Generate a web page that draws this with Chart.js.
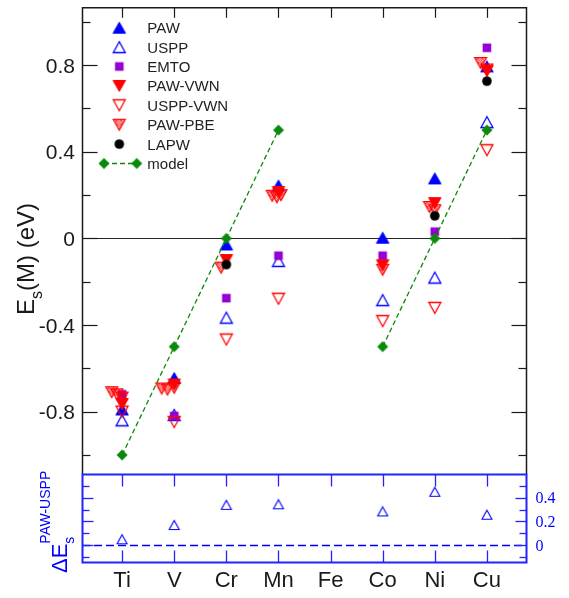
<!DOCTYPE html>
<html>
<head>
<meta charset="utf-8">
<script src="https://cdn.jsdelivr.net/npm/chart.js@4.4.1/dist/chart.umd.min.js"></script>
<style>
  html, body { margin: 0; padding: 0; background: #fff; }
  #wrap { position: relative; width: 569px; height: 598px; }
  #wrap canvas { position: absolute; left: 0; top: 0; }
</style>
</head>
<body>
<div id="wrap">
  <canvas id="main" width="569" height="598"></canvas>
  <canvas id="diff" width="569" height="598"></canvas>
</div>
<script>
// Surface segregation energies of 3d impurities, E_s(M) in eV
const elements = ['Ti', 'V', 'Cr', 'Mn', 'Fe', 'Co', 'Ni', 'Cu'];
const paw     = [-0.79, -0.645, -0.028, 0.244, null, 0.003, 0.277, 0.794];
const uspp    = [-0.84, -0.815, -0.366, -0.104, null, -0.285, -0.181, 0.537];
const emto    = [-0.72, -0.82, -0.276, -0.08, null, -0.08, 0.031, 0.88];
const pawVwn  = [-0.765, -0.675, -0.10, 0.214, null, -0.124, 0.163, 0.772];
const usppVwn = [-0.80, -0.848, -0.467, -0.279, null, -0.382, -0.321, 0.407];
const lapw    = [null, null, -0.121, null, null, null, 0.104, 0.726];
const model   = [-1.0, -0.5, 0.0, 0.5, null, -0.5, 0.0, 0.5];

// PAW-PBE: several calculations per element, set side by side (shift in element units)
const pawPbeElement = ['Ti', 'Ti', 'Ti', 'V', 'V', 'V', 'Cr', 'Mn', 'Mn', 'Mn', 'Co', 'Ni', 'Ni', 'Cu', 'Cu'];
const pawPbeShift   = [-0.2, -0.1, 0, -0.24, -0.13, 0, -0.1, -0.12, -0.03, 0.05, 0, -0.1, 0, -0.12, 0];
const pawPbe        = [-0.71, -0.72, -0.735, -0.693, -0.698, -0.69, -0.135, 0.197, 0.19, 0.20, -0.145, 0.145, 0.13, 0.81, 0.78];

// Difference PAW - USPP (lower panel)
const deltaPawUspp = [0.05, 0.17, 0.34, 0.345, null, 0.285, 0.45, 0.257];

const yTicksMain = [-0.8, -0.4, 0, 0.4, 0.8];
const yMinorMain = [-1.0, -0.6, -0.2, 0.2, 0.6, 1.0];
const yTicksDiff = [0, 0.2, 0.4];
const yMinorDiff = [-0.1, 0.1, 0.3, 0.5];

const RED = '#ff0000', BLUE = '#0000ff', PURPLE = '#9400d3', GREEN = '#0a8a0a', INK = '#1a1a1a';
const SANS = '"Liberation Sans", Arial, Helvetica, sans-serif';
const SERIF = '"Liberation Serif", "Times New Roman", serif';

// ---- marker images -------------------------------------------------------
function marker(draw, size = 18) {
  const c = document.createElement('canvas');
  c.width = size; c.height = size;
  draw(c.getContext('2d'), size / 2, size / 2);
  return c;
}
function triPath(g, cx, cy, w, h, down) {
  g.beginPath();
  if (down) {
    g.moveTo(cx, cy + h / 2); g.lineTo(cx + w / 2, cy - h / 2); g.lineTo(cx - w / 2, cy - h / 2);
  } else {
    g.moveTo(cx, cy - h / 2); g.lineTo(cx + w / 2, cy + h / 2); g.lineTo(cx - w / 2, cy + h / 2);
  }
  g.closePath();
}
const mk = {
  triFilledUp: color => marker((g, c) => { triPath(g, c, c, 12.5, 11, false); g.fillStyle = color; g.fill(); g.strokeStyle = color; g.lineWidth = 1; g.stroke(); }),
  triFilledDown: color => marker((g, c) => { triPath(g, c, c, 12.5, 11, true); g.fillStyle = color; g.fill(); g.strokeStyle = color; g.lineWidth = 1; g.stroke(); }),
  triOpenUp: (color, w = 12, h = 11, lw = 1.3) => marker((g, c) => { triPath(g, c, c, w, h, false); g.strokeStyle = color; g.lineWidth = lw; g.stroke(); }),
  triOpenDown: color => marker((g, c) => { triPath(g, c, c, 12, 11, true); g.strokeStyle = color; g.lineWidth = 1.3; g.stroke(); }),
  triHatchDown: color => marker((g, c) => {
    triPath(g, c, c, 12, 11, true);
    g.save(); g.clip();
    g.strokeStyle = color; g.lineWidth = 0.8;
    for (let k = -20; k < 40; k += 2.6) {
      g.beginPath(); g.moveTo(k, 0); g.lineTo(k + 18, 18); g.stroke();
      g.beginPath(); g.moveTo(k, 18); g.lineTo(k + 18, 0); g.stroke();
    }
    g.restore();
    triPath(g, c, c, 12, 11, true); g.strokeStyle = color; g.lineWidth = 1.2; g.stroke();
  }),
  square: color => marker((g, c) => { g.fillStyle = color; g.fillRect(c - 4.3, c - 4.3, 8.6, 8.6); }),
  circle: color => marker((g, c) => { g.beginPath(); g.arc(c, c, 4.8, 0, Math.PI * 2); g.fillStyle = color; g.fill(); }),
  diamond: color => marker((g, c) => {
    g.beginPath(); g.moveTo(c, c - 5.5); g.lineTo(c + 5.5, c); g.lineTo(c, c + 5.5); g.lineTo(c - 5.5, c); g.closePath();
    g.fillStyle = color; g.fill();
  })
};

const series = [
  { label: 'PAW',      values: paw,     style: mk.triFilledUp(BLUE) },
  { label: 'USPP',     values: uspp,    style: mk.triOpenUp(BLUE) },
  { label: 'EMTO',     values: emto,    style: mk.square(PURPLE) },
  { label: 'PAW-VWN',  values: pawVwn,  style: mk.triFilledDown(RED) },
  { label: 'USPP-VWN', values: usppVwn, style: mk.triOpenDown(RED) },
  { label: 'PAW-PBE',  values: null,    style: mk.triHatchDown(RED) },
  { label: 'LAPW',     values: lapw,    style: mk.circle('#000000') },
  { label: 'model',    values: model,   style: mk.diamond(GREEN) }
];

function points(values) {
  return values.map((v, i) => ({ x: i, y: v }));
}

const mainDatasets = series.map((s, k) => {
  const ds = {
    label: s.label,
    data: s.values ? points(s.values) : pawPbe.map((v, i) => ({ x: elements.indexOf(pawPbeElement[i]) + pawPbeShift[i], y: v })),
    pointStyle: s.style,
    pointRadius: 6,
    pointHoverRadius: 6,
    showLine: false,
    order: series.length - k
  };
  if (s.label === 'model') {
    Object.assign(ds, { showLine: true, borderColor: GREEN, borderWidth: 1.3, borderDash: [5, 3], spanGaps: false });
  }
  return ds;
});

const xRange = { min: -0.77, max: 7.77 };

function ticksVertical(ctx, scale, x, values, len, dir) {
  values.forEach(v => {
    const py = Math.round(scale.getPixelForValue(v)) + 0.5;
    ctx.beginPath(); ctx.moveTo(x, py); ctx.lineTo(x + dir * len, py); ctx.stroke();
  });
}
function ticksHorizontal(ctx, scale, y, count, len, dir) {
  for (let i = 0; i < count; i++) {
    const px = Math.round(scale.getPixelForValue(i)) + 0.5;
    ctx.beginPath(); ctx.moveTo(px, y); ctx.lineTo(px, y + dir * len); ctx.stroke();
  }
}

// Draws pieces of text along the baseline, each with its own size and baseline shift
function richText(ctx, parts) {
  let x = 0;
  parts.forEach(p => {
    ctx.font = p.size + 'px ' + SANS;
    ctx.fillText(p.text, x, p.shift || 0);
    if (!p.keep) x += ctx.measureText(p.text).width;
  });
}

const mainDecor = {
  id: 'mainDecor',
  beforeDatasetsDraw(chart) {
    const { ctx, chartArea: a, scales: { y } } = chart;
    const y0 = Math.round(y.getPixelForValue(0)) + 0.5;
    ctx.save();
    ctx.strokeStyle = '#222'; ctx.lineWidth = 1;
    ctx.beginPath(); ctx.moveTo(a.left, y0); ctx.lineTo(a.right, y0); ctx.stroke();
    ctx.restore();
  },
  afterDraw(chart) {
    const { ctx, chartArea: a, scales: { x, y } } = chart;
    const L = a.left + 0.5, R = a.right - 0.5, T = a.top + 0.5, B = a.bottom;
    ctx.save();
    ctx.strokeStyle = INK; ctx.lineWidth = 1.5;
    ctx.beginPath(); ctx.moveTo(L, B); ctx.lineTo(L, T); ctx.lineTo(R, T); ctx.lineTo(R, B); ctx.stroke();
    ctx.lineWidth = 1.2;
    ticksVertical(ctx, y, L, yTicksMain, 15, 1);
    ticksVertical(ctx, y, L, yMinorMain, 8, 1);
    ticksVertical(ctx, y, R, yTicksMain, 15, -1);
    ticksVertical(ctx, y, R, yMinorMain, 8, -1);
    ticksHorizontal(ctx, x, T, elements.length, 10, 1);

    // tick labels
    ctx.fillStyle = INK; ctx.font = '21px ' + SANS;
    ctx.textAlign = 'right'; ctx.textBaseline = 'alphabetic';
    yTicksMain.forEach(v => ctx.fillText(String(v), 75, y.getPixelForValue(v) + 7.5));

    // axis title E_s(M) (eV)
    ctx.save();
    ctx.translate(33.5, 315); ctx.rotate(-Math.PI / 2);
    ctx.textAlign = 'left';
    richText(ctx, [
      { text: 'E', size: 24 },
      { text: 's', size: 16, shift: 8 },
      { text: '(M) (eV)', size: 24 }
    ]);
    ctx.restore();

    // legend
    ctx.textAlign = 'left';
    ctx.font = '15px ' + SANS;
    series.forEach((s, k) => {
      const cy = 27.7 + 19.4 * k;
      if (s.label === 'model') {
        ctx.save();
        ctx.strokeStyle = GREEN; ctx.lineWidth = 1.3; ctx.setLineDash([5, 3]);
        ctx.beginPath(); ctx.moveTo(104, cy); ctx.lineTo(136.7, cy); ctx.stroke();
        ctx.restore();
        ctx.drawImage(s.style, 104 - 9, cy - 9);
        ctx.drawImage(s.style, 136.7 - 9, cy - 9);
      } else {
        ctx.drawImage(s.style, 119.3 - 9, cy - 9);
      }
      ctx.fillStyle = '#222';
      ctx.fillText(s.label, 147.3, cy + 5.5);
    });
    ctx.restore();
  }
};

const diffDecor = {
  id: 'diffDecor',
  beforeDatasetsDraw(chart) {
    const { ctx, chartArea: a, scales: { y } } = chart;
    const y0 = Math.round(y.getPixelForValue(0)) + 0.5;
    ctx.save();
    ctx.strokeStyle = BLUE; ctx.lineWidth = 1.4; ctx.setLineDash([8, 4]);
    ctx.beginPath(); ctx.moveTo(a.left, y0); ctx.lineTo(a.right, y0); ctx.stroke();
    ctx.restore();
  },
  afterDraw(chart) {
    const { ctx, chartArea: a, scales: { x, y } } = chart;
    const L = a.left + 0.5, R = a.right - 0.5, T = a.top + 0.5, B = a.bottom - 0.5;
    ctx.save();
    ctx.strokeStyle = '#2222ff'; ctx.lineWidth = 2;
    ctx.strokeRect(L, T, R - L, B - T);
    ctx.lineWidth = 1.3;
    ticksVertical(ctx, y, L, yTicksDiff, 11, 1);
    ticksVertical(ctx, y, L, yMinorDiff, 7, 1);
    ticksVertical(ctx, y, R, yTicksDiff, 11, -1);
    ticksVertical(ctx, y, R, yMinorDiff, 7, -1);
    ticksHorizontal(ctx, x, T, elements.length, 12, 1);
    ticksHorizontal(ctx, x, B, elements.length, 12, -1);

    // right tick labels
    ctx.fillStyle = BLUE; ctx.font = '16px ' + SERIF;
    ctx.textAlign = 'left'; ctx.textBaseline = 'alphabetic';
    yTicksDiff.forEach(v => ctx.fillText(String(v), 535.5, y.getPixelForValue(v) + 5.5));

    // category labels
    ctx.fillStyle = INK; ctx.font = '22px ' + SANS; ctx.textAlign = 'center';
    elements.forEach((e, i) => ctx.fillText(e, x.getPixelForValue(i), 587));

    // axis title ΔE_s^PAW-USPP
    ctx.save();
    ctx.fillStyle = BLUE;
    ctx.translate(67, 573); ctx.rotate(-Math.PI / 2);
    ctx.textAlign = 'left';
    richText(ctx, [
      { text: '\u0394E', size: 22 },
      { text: 's', size: 14, shift: 7, keep: true },
      { text: 'PAW-USPP', size: 14, shift: -17 }
    ]);
    ctx.restore();
    ctx.restore();
  }
};

const common = {
  responsive: false,
  devicePixelRatio: 1,
  animation: false,
  events: [],
  plugins: { legend: { display: false }, tooltip: { enabled: false } }
};

new Chart(document.getElementById('main'), {
  type: 'scatter',
  data: { datasets: mainDatasets },
  options: Object.assign({}, common, {
    layout: { padding: { left: 82, top: 5, right: 42, bottom: 124 } },
    scales: {
      x: Object.assign({ type: 'linear', display: false }, xRange),
      y: { type: 'linear', display: false, min: -1.088, max: 1.067 }
    }
  }),
  plugins: [mainDecor]
});

new Chart(document.getElementById('diff'), {
  type: 'scatter',
  data: {
    datasets: [{
      label: '\u0394E PAW-USPP',
      data: points(deltaPawUspp),
      pointStyle: mk.triOpenUp(BLUE, 10, 9, 1.1),
      pointRadius: 5
    }]
  },
  options: Object.assign({}, common, {
    layout: { padding: { left: 82, top: 474, right: 42, bottom: 35 } },
    scales: {
      x: Object.assign({ type: 'linear', display: false }, xRange),
      y: { type: 'linear', display: false, min: -0.15, max: 0.6 }
    }
  }),
  plugins: [diffDecor]
});
</script>
</body>
</html>
